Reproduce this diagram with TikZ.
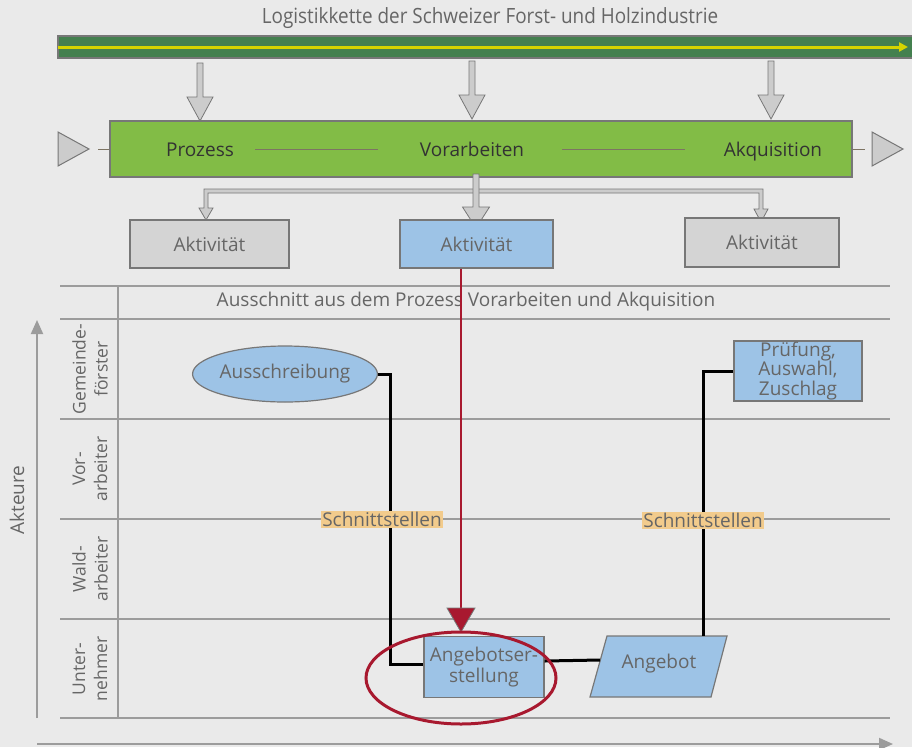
\documentclass[tikz,border=0pt]{standalone}
\usepackage{fontspec}
\setmainfont{Open Sans}
\usetikzlibrary{arrows.meta,shapes.geometric}
\definecolor{bg}{HTML}{EAEAEA}
\definecolor{dkgreen}{HTML}{44804F}
\definecolor{ltgreen}{HTML}{82BC46}
\definecolor{yel}{HTML}{D6D400}
\definecolor{grayfill}{HTML}{D4D4D4}
\definecolor{arrfill}{HTML}{CCCCCC}
\definecolor{bluefill}{HTML}{9DC3E6}
\definecolor{boxline}{HTML}{777777}
\definecolor{txt}{HTML}{666666}
\definecolor{dtxt}{HTML}{333333}
\definecolor{gridc}{HTML}{9C9C9C}
\definecolor{redc}{HTML}{A8192F}
\definecolor{orng}{HTML}{F2CB8C}
\definecolor{brn}{HTML}{7D7463}
\newcommand\fmain{\fontsize{19}{22}\selectfont}
\newcommand\flane{\fontsize{17.5}{22}\selectfont}
\newcommand\hdarrow[6]{%
  \filldraw[fill=arrfill, draw=boxline, line width=0.8pt]
  ({#1-#4/2},#2) -- ({#1+#4/2},#2) -- ({#1+#4/2},{#3-#6}) -- ({#1+#5/2},{#3-#6})
  -- (#1,#3) -- ({#1-#5/2},{#3-#6}) -- ({#1-#4/2},{#3-#6}) -- cycle;}
\begin{document}
\begin{tikzpicture}[x=1pt,y=-1pt,
  act/.style={draw=boxline, line width=1.2pt, text=txt, font=\fmain, inner sep=0pt},
  bartext/.style={text=dtxt, font=\fmain, anchor=base},
  grid/.style={draw=gridc, line width=2pt},
  lane/.style={text=txt, font=\flane, align=center, rotate=90},
  axis/.style={draw=gridc, line width=2pt},
  conn/.style={draw=black, line width=3pt},
  sst/.style={fill=orng, text=txt, font=\fmain, inner xsep=1pt, inner ysep=0pt, minimum height=17pt},
  deco/.style={draw=brn, line width=1pt}]
\useasboundingbox (0,0) rectangle (912,747);
\fill[bg] (0,0) rectangle (912,747);
% title and banner
\node[text=txt] (title) at (490,18) {\fontsize{21}{22}\selectfont\scalebox{0.9}[1]{Logistikkette der Schweizer Forst- und Holzindustrie}};
\draw[draw=boxline, line width=1.5pt, fill=dkgreen] (58,36) rectangle (914,58);
\draw[yel, line width=3pt, -{Triangle[length=9pt,width=9pt]}] (58,47) -- (908,47);
% top arrows
\hdarrow{200}{63}{121}{6}{26}{24}
\hdarrow{472}{61}{119}{6}{26}{24}
\hdarrow{771}{61}{119}{6}{26}{24}
% process bar
\node[draw=boxline, fill=ltgreen, line width=1.2pt, minimum width=742pt, minimum height=56pt, inner sep=0pt] (bar) at (481,149) {};
\node[bartext] (p1) at (200,156) {Prozess};
\node[bartext] (p2) at (472,156) {Vorarbeiten};
\node[bartext] (p3) at (773,156) {Akquisition};
\draw[deco] ([xshift=-226pt]bar.center) -- ([xshift=-103pt]bar.center);
\draw[deco] ([xshift=81pt]bar.center) -- ([xshift=204pt]bar.center);
\filldraw[fill=arrfill, draw=boxline, line width=1pt] (58,132) -- (89,149) -- (58,166) -- cycle;
\filldraw[fill=arrfill, draw=boxline, line width=1pt] (872,132) -- (903,149) -- (872,166) -- cycle;
\draw[deco] (98,149) -- (bar.west);
\draw[deco] (bar.east) -- (865,149);
% distribution arrows
\filldraw[fill=arrfill, draw=boxline, line width=0.8pt]
  (204,189) -- (763,189) -- (763,209) -- (768,209) -- (761,222) -- (754,209) -- (759,209)
  -- (759,193) -- (208,193) -- (208,208) -- (213,208) -- (206,220) -- (199,208) -- (204,208) -- cycle;
\hdarrow{476}{174}{228}{6}{27}{21}
% activity boxes
\node[act, fill=grayfill, minimum width=159pt, minimum height=48pt] (a1) at (209.5,244) {Aktivität};
\node[act, fill=bluefill, minimum width=153pt, minimum height=48pt] (a2) at (476.5,244) {Aktivität};
\node[act, fill=grayfill, minimum width=154pt, minimum height=49pt] (a3) at (762,242.5) {Aktivität};
% swimlanes
\foreach \yy in {286,319,419,519,619,718} \draw[grid] (60,\yy) -- (890,\yy);
\draw[grid] (118,286) -- (118,718);
\node[text=txt, font=\fmain] (hdr) at (466,302) {Ausschnitt aus dem Prozess Vorarbeiten und Akquisition};
\node[lane] (l1) at (90,369) {Gemeinde-\\förster};
\node[lane] (l2) at (90,469) {Vor-\\arbeiter};
\node[lane] (l3) at (90,569) {Wald-\\arbeiter};
\node[lane] (l4) at (90,669) {Unter-\\nehmer};
% axes
\coordinate (ax0) at (37,718);
\coordinate (ax1) at (37,320);
\draw[axis, -{Triangle[length=14pt,width=12pt]}] (ax0) -- (ax1);
\node[text=txt, font=\fontsize{19}{22}\selectfont, rotate=90] (akt) at (17,500) {Akteure};
\coordinate (ah0) at (37,744);
\coordinate (ah1) at (893,744);
\draw[axis, -{Triangle[length=14pt,width=12pt]}] (ah0) -- (ah1);
% process elements
\node[ellipse, draw=boxline, line width=1.2pt, fill=bluefill, text=txt, font=\fmain, minimum width=180pt, minimum height=56pt, inner sep=0pt] (aus) at (285,374) {Ausschreibung};
\node[act, fill=bluefill, minimum width=120pt, minimum height=61pt, align=center, font=\fontsize{19}{21}\selectfont] (ang) at (484,667) {Angebotser-\\stellung};
\filldraw[fill=bluefill, draw=boxline, line width=1.2pt] (590,697) -- (607,636) -- (727,636) -- (711,697) -- cycle;
\node[text=txt, font=\fmain] (angebot) at (659,664) {Angebot};
\coordinate (angW) at (600,660);
\coordinate (angN) at (703,636);
\node[act, fill=bluefill, minimum width=128pt, minimum height=60pt, align=center, font=\fontsize{19}{19.5}\selectfont] (pr) at (798,371) {Prüfung,\\Auswahl,\\Zuschlag};
% connectors
\draw[conn] (aus.east) -- ++(12,0) |- ([yshift=3pt]ang.west);
\draw[conn] ([yshift=6pt]ang.east) -- (angW);
\draw[conn] (angN) |- (pr.west);
\node[sst] (s1) at (382,519) {Schnittstellen};
\node[sst] (s2) at (703,520) {Schnittstellen};
% red highlight
\coordinate (rtop) at ([xshift=-15.5pt]a2.south);
\coordinate (rhead) at (461,609);
\draw[redc, line width=2pt] (rtop) -- (rhead);
\filldraw[fill=redc, draw=boxline, line width=0.8pt] (447,608) -- (475,608) -- (461,632) -- cycle;
\draw[redc, line width=3pt] (461,678) ellipse [x radius=95pt, y radius=46pt];
\end{tikzpicture}
\end{document}
